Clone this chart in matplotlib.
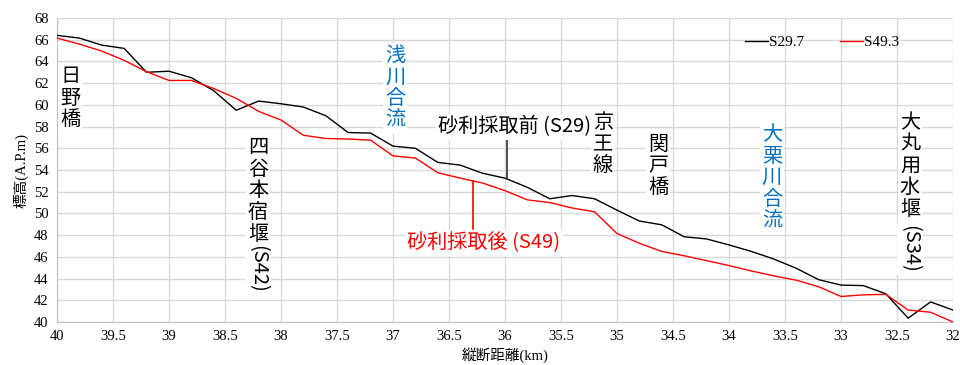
import matplotlib.pyplot as plt
import numpy as np

# distance from mouth (km), every 0.2 km
km = [40.0, 39.8, 39.6, 39.4, 39.2, 39.0, 38.8, 38.6, 38.4, 38.2, 38.0,
      37.8, 37.6, 37.4, 37.2, 37.0, 36.8, 36.6, 36.4, 36.2, 36.0,
      35.8, 35.6, 35.4, 35.2, 35.0, 34.8, 34.6, 34.4, 34.2, 34.0,
      33.8, 33.6, 33.4, 33.2, 33.0, 32.8, 32.6, 32.4, 32.2, 32.0]

# riverbed elevation, S29.7 survey
elev_s29 = [66.4, 66.15, 65.5, 65.2, 63.0, 63.1, 62.5, 61.3, 59.5, 60.35, 60.1,
            59.8, 59.0, 57.45, 57.4, 56.2, 56.0, 54.7, 54.45, 53.7, 53.25,
            52.4, 51.35, 51.65, 51.35, 50.3, 49.3, 48.95, 47.85, 47.65, 47.1,
            46.5, 45.8, 44.95, 43.9, 43.4, 43.35, 42.6, 40.35, 41.85, 41.1]

# riverbed elevation, S49.3 survey
elev_s49 = [66.15, 65.6, 64.95, 64.1, 63.05, 62.25, 62.25, 61.5, 60.6, 59.4, 58.6,
            57.2, 56.9, 56.85, 56.75, 55.3, 55.1, 53.75, 53.25, 52.8, 52.1,
            51.25, 51.0, 50.5, 50.15, 48.15, 47.25, 46.5, 46.1, 45.65, 45.2,
            44.7, 44.25, 43.85, 43.25, 42.35, 42.5, 42.55, 41.1, 40.9, 40.0]

xticks = [40, 39.5, 39, 38.5, 38, 37.5, 37, 36.5, 36, 35.5, 35,
          34.5, 34, 33.5, 33, 32.5, 32]
yticks = list(range(40, 69, 2))

cjk = ['Noto Sans CJK JP', 'DejaVu Sans']
mixed = ['Liberation Serif', 'Noto Sans CJK JP']
blue = '#0070C0'
FS = 14.5

W, H = 960, 365
fig = plt.figure(figsize=(W / 100, H / 100), dpi=100)
ax = fig.add_axes([57 / W, (H - 322) / H, (953 - 57) / W, (322 - 18) / H])

ax.plot(km, elev_s29, color='black', lw=1.0, label='S29.7', zorder=3)
ax.plot(km, elev_s49, color='#ff0000', lw=1.0, label='S49.3', zorder=3)

ax.set_xlim(40, 32)
ax.set_ylim(40, 68)
ax.set_xticks(xticks)
ax.set_xticklabels(['%g' % t for t in xticks])
ax.set_yticks(yticks)
ax.grid(True, color='#d9d9d9', lw=1.0)
ax.set_axisbelow(True)
for s in ['top', 'right']:
    ax.spines[s].set_visible(False)
for s in ['left', 'bottom']:
    ax.spines[s].set_color('#bfbfbf')
ax.tick_params(length=0, pad=6, labelsize=10.5)
for lab in ax.get_xticklabels() + ax.get_yticklabels():
    lab.set_family('Liberation Serif')

ax.set_xlabel('縦断距離(km)', family=mixed, fontsize=10.5, labelpad=3)
ax.set_ylabel('標高(A.P.m)', family=mixed, fontsize=10.5, labelpad=4)

leg = ax.legend(loc='center left', bbox_to_anchor=(745 / W, 1 - 42 / H),
                bbox_transform=fig.transFigure, ncol=2, frameon=False,
                handlelength=1.5, handletextpad=0.05, columnspacing=2.4,
                borderpad=0, borderaxespad=0,
                prop={'family': 'Liberation Serif', 'size': 11})

box = dict(facecolor='white', edgecolor='none', pad=1.5)


def vtext(x, y, s, color='black', tail=None, tail_dy=0):
    # stacked vertical label in pixel coordinates (y from top)
    fig.text(x / W, 1 - y / H, '\n'.join(s), family=cjk, fontsize=FS,
             color=color, ha='center', va='top', linespacing=1.04,
             bbox=box, zorder=5)
    if tail:
        fig.text(x / W, 1 - tail_dy / H, tail, family=cjk, fontsize=FS,
                 color=color, ha='center', va='top', rotation=-90,
                 bbox=box, zorder=5)


vtext(70, 66, '日野橋')
vtext(258, 137, '四谷本宿堰', tail='(S42)', tail_dy=245)
vtext(395, 45, '浅川合流', color=blue)
vtext(603, 112, '京王線')
vtext(658, 134, '関戸橋')
vtext(772, 124, '大栗川合流', color=blue)
vtext(910, 112, '大丸用水堰', tail='(S34)', tail_dy=225)

# leader lines for the two survey labels
fig.add_artist(plt.Line2D([507 / W, 507 / W], [1 - 140 / H, 1 - 179 / H],
                          color='#333333', lw=1.2))
fig.add_artist(plt.Line2D([473 / W, 473 / W], [1 - 229 / H, 1 - 181 / H],
                          color='#ff0000', lw=1.2))
fig.text(515 / W, 1 - 127 / H, '砂利採取前 (S29)', family=cjk, fontsize=FS,
         color='black', ha='center', va='center', bbox=box, zorder=5)
fig.text(484 / W, 1 - 243 / H, '砂利採取後 (S49)', family=cjk, fontsize=FS,
         color='#ff0000', ha='center', va='center', bbox=box, zorder=5)

fig.savefig('out.png', dpi=100)
